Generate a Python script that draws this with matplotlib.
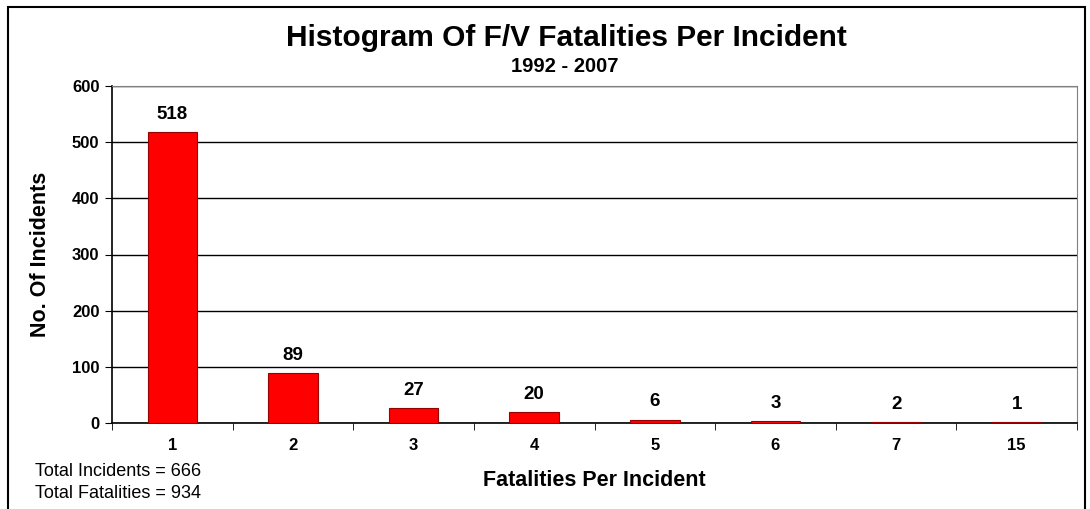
import numpy as np
import matplotlib.pyplot as plt
from matplotlib.patches import Rectangle

plt.rcParams['font.family'] = ['Liberation Sans', 'DejaVu Sans']

fatalities = ['1', '2', '3', '4', '5', '6', '7', '15']
incidents = [518, 89, 27, 20, 6, 3, 2, 1]
total_incidents = 666
total_fatalities = 934

fig = plt.figure(figsize=(10.9, 5.09), dpi=100)
ax = fig.add_axes([112/1090, 1-423/509, (1077-112)/1090, (423-86)/509])

x = np.arange(len(fatalities))
ax.bar(x, incidents, width=0.41, color='#FF0000', edgecolor='#990000', linewidth=0.8, zorder=3)
for xi, v in zip(x, incidents):
    ax.annotate(str(v), (xi, v), xytext=(0, 9.5), textcoords='offset points',
                ha='center', va='baseline', fontsize=13.5, fontweight='bold')

ax.set_xlim(-0.5, len(fatalities) - 0.5)
ax.set_ylim(0, 600)
ax.set_yticks(range(0, 601, 100))
ax.set_yticklabels([str(t) for t in range(0, 601, 100)], fontsize=12, fontweight='bold')
ax.yaxis.grid(True, color='black', linewidth=1, zorder=0)
ax.set_xticks(x)
ax.set_xticklabels(fatalities, fontsize=12, fontweight='bold')
ax.set_xticks(np.arange(-0.5, len(fatalities)), minor=True)
ax.tick_params(axis='x', which='major', length=0, pad=11)
ax.tick_params(axis='x', which='minor', length=5, direction='out')
ax.tick_params(axis='y', length=5, direction='out', pad=4)

for s in ['top', 'right']:
    ax.spines[s].set_color('#808080')
for s in ['left', 'bottom']:
    ax.spines[s].set_color('black')
    ax.spines[s].set_linewidth(1.2)

ax.set_ylabel('No. Of Incidents', fontsize=15.5, fontweight='bold')
ax.set_xlabel('Fatalities Per Incident', fontsize=15.5, fontweight='bold')
ax.yaxis.set_label_coords((41-112)/965, 0.5)
ax.xaxis.set_label_coords(0.5, (423-481)/337)
ax.xaxis.label.set_va('center')
ax.yaxis.label.set_va('center')

fig.text(566/1090, 1-38/509, 'Histogram Of F/V Fatalities Per Incident', ha='center', va='center',
         fontsize=21.5, fontweight='bold')
fig.text(565/1090, 1-67/509, '1992 - 2007', ha='center', va='center', fontsize=14.5, fontweight='bold')
fig.text(35/1090, 1-472/509, 'Total Incidents = %d' % total_incidents, ha='left', va='center', fontsize=13)
fig.text(35/1090, 1-493/509, 'Total Fatalities = %d' % total_fatalities, ha='left', va='center', fontsize=13)

fig.patches.append(Rectangle((8/1090, -0.05), (1085-8)/1090, 1-7/509 + 0.05, transform=fig.transFigure,
                             fill=False, edgecolor='black', linewidth=1.5))

fig.savefig('out.png', dpi=100)
